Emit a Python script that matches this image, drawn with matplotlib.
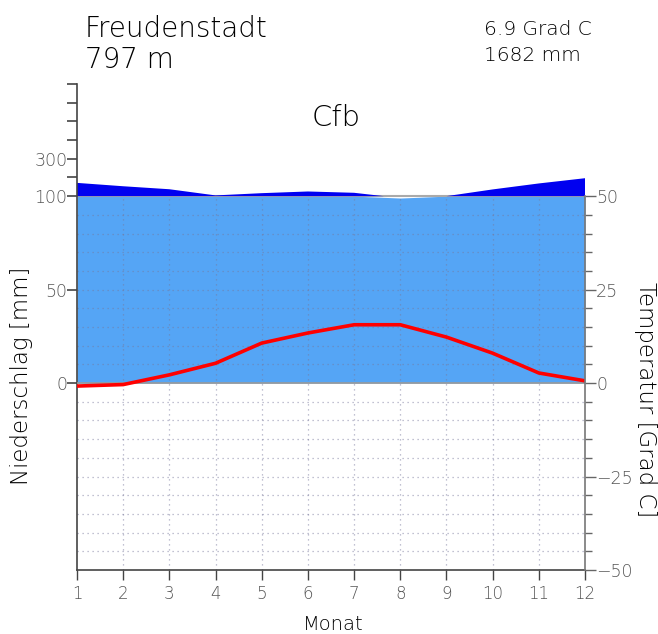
import matplotlib
matplotlib.use("Agg")
import matplotlib.pyplot as plt
import numpy as np

# Klimadaten Freudenstadt
months = np.arange(1, 13)
temp = [-0.8, -0.4, 2.2, 5.3, 10.7, 13.4, 15.6, 15.6, 12.3, 8.0, 2.7, 0.6]   # Grad C
precip = [171, 153, 137, 104, 116, 125, 118, 99, 100, 136, 168, 196]        # mm

station = "Freudenstadt"
height = "797 m"
mean_temp = "6.9 Grad C"
sum_precip = "1682 mm"
climate = "Cfb"

plt.rcParams['font.family'] = ['DejaVu Sans']
plt.rcParams['font.weight'] = 'light'


def mm_to_t(p):
    # Walter-Lieth: 10 mm = 5 Grad bis 100 mm, darueber 1/10
    p = np.asarray(p, dtype=float)
    return np.where(p <= 100, p / 2.0, 50 + (p - 100) / 20.0)


W, H = 658, 634
fig = plt.figure(figsize=(W / 100, H / 100), dpi=100)
ax = fig.add_axes([77 / W, 1 - 570 / H, (585 - 77) / W, (570 - 84) / H])
ax.set_xlim(1, 12)
ax.set_ylim(-50, 80)

light = '#55a5f5'
dark = '#0000f0'
axcol = '#444444'
labcol = '#555555'

p = np.array(precip, dtype=float)
ax.fill_between(months, 0, mm_to_t(np.minimum(p, 100)), color=light, lw=0, zorder=1)
ax.axhline(50, color='#aaaaaa', lw=1.5, zorder=1.5)
ax.fill_between(months, 50, mm_to_t(p), where=p >= 100, interpolate=True,
                color=dark, lw=0, zorder=2)

# Gitter
for t in range(-45, 50, 5):
    if t == 0:
        continue
    ax.plot([1, 12], [t, t], ls=(0, (1, 3)), lw=0.9, color='#777799', alpha=0.6, zorder=2.5)
for m in months[1:-1]:
    ax.plot([m, m], [-50, 50], ls=(0, (1, 3)), lw=0.9, color='#777799', alpha=0.6, zorder=2.5)
ax.plot([1, 12], [0, 0], color='#999999', lw=1.2, zorder=2.6)

ax.plot(months, temp, color='#ff0000', lw=2.6, zorder=3, solid_capstyle='butt')

# Achsen
ax.spines['top'].set_visible(False)
ax.spines['right'].set_visible(False)
ax.spines['left'].set_color(axcol)
ax.spines['bottom'].set_color(axcol)
ax.spines['left'].set_linewidth(1.2)
ax.spines['bottom'].set_linewidth(1.2)

ax.set_xticks(months)
ax.set_xticklabels([str(m) for m in months])
ax.tick_params(axis='x', direction='out', length=7, width=1, color=axcol,
               labelcolor=labcol, labelsize=12, pad=4)

left_mm = [0, 50, 100, 200, 300, 400, 500, 600, 700]
left_lab = ['0', '50', '100', '', '300', '', '', '', '']
ax.set_yticks(mm_to_t(left_mm))
ax.set_yticklabels(left_lab)
ax.tick_params(axis='y', direction='out', length=7, width=1.2, color=axcol,
               labelcolor=labcol, labelsize=12.5, pad=0)

ax2 = ax.twinx()
ax2.set_ylim(-50, 80)
for s in ['top', 'left', 'bottom']:
    ax2.spines[s].set_visible(False)
ax2.spines['right'].set_bounds(-50, 50)
ax2.spines['right'].set_color('#777777')
ax2.spines['right'].set_linewidth(1.2)
ax2.set_yticks([-50, -25, 0, 25, 50])
ax2.set_yticks(range(-45, 50, 5), minor=True)
ax2.tick_params(axis='y', which='major', direction='out', length=8, width=1,
                color='#666666', labelcolor=labcol, labelsize=12.5, pad=0)
ax2.tick_params(axis='y', which='minor', direction='out', length=5, width=1,
                color='#666666')

# Texte
def ftext(x, y, s, **kw):
    fig.text(x / W, 1 - y / H, s, **kw)

ftext(85, 37, station, fontsize=20, va='baseline', ha='left')
ftext(85, 68, height, fontsize=20, va='baseline', ha='left')
ftext(484, 35, mean_temp, fontsize=14.5, va='baseline', ha='left')
ftext(484, 61, sum_precip, fontsize=14.5, va='baseline', ha='left')
ftext(336, 126, climate, fontsize=21, va='baseline', ha='center')
ftext(333, 630, 'Monat', fontsize=14, va='baseline', ha='center')
ftext(22, 376, 'Niederschlag [mm]', fontsize=16.5, rotation=90, va='center', ha='center')
ftext(645, 400, 'Temperatur [Grad C]', fontsize=16.5, rotation=-90, va='center', ha='center')

fig.savefig('out.png', dpi=100)
